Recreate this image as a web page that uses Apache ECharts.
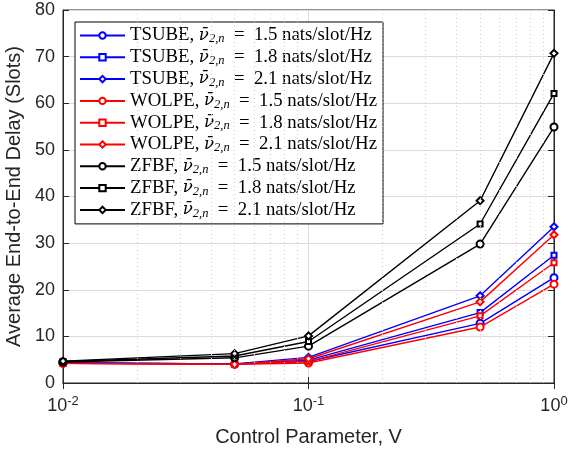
<!DOCTYPE html>
<html>
<head>
<meta charset="utf-8">
<script src="https://cdn.jsdelivr.net/npm/echarts@6/dist/echarts.min.js"></script>
<style>
  html, body { margin: 0; padding: 0; background: #fff; }
  #chart { width: 570px; height: 450px; }
</style>
</head>
<body>
<div id="chart"></div>
<script>
// control parameter V (log scale)
const xValues = [0.01, 0.05, 0.1, 0.5, 1];

const tsube15 = [4.3, 4.1, 4.6, 12.8, 22.6];
const tsube18 = [4.3, 4.1, 4.9, 15.1, 27.4];
const tsube21 = [4.3, 4.1, 5.5, 18.7, 33.5];
const wolpe15 = [4.2, 4.0, 4.3, 12.0, 21.2];
const wolpe18 = [4.2, 4.0, 4.6, 14.4, 25.8];
const wolpe21 = [4.2, 4.0, 5.2, 17.4, 31.8];
const zfbf15 = [4.5, 5.4, 7.9, 29.8, 54.9];
const zfbf18 = [4.6, 5.8, 8.9, 34.1, 62.1];
const zfbf21 = [4.7, 6.3, 10.1, 39.1, 70.7];

const minorGrid = [0.02, 0.03, 0.04, 0.05, 0.06, 0.07, 0.08, 0.09,
                   0.2, 0.3, 0.4, 0.5, 0.6, 0.7, 0.8, 0.9];

const seriesDefs = [
  ['TSUBE', '1.5', tsube15, '#0000ff', 'emptyCircle'],
  ['TSUBE', '1.8', tsube18, '#0000ff', 'emptyRect'],
  ['TSUBE', '2.1', tsube21, '#0000ff', 'emptyDiamond'],
  ['WOLPE', '1.5', wolpe15, '#ff0000', 'emptyCircle'],
  ['WOLPE', '1.8', wolpe18, '#ff0000', 'emptyRect'],
  ['WOLPE', '2.1', wolpe21, '#ff0000', 'emptyDiamond'],
  ['ZFBF', '1.5', zfbf15, '#000000', 'emptyCircle'],
  ['ZFBF', '1.8', zfbf18, '#000000', 'emptyRect'],
  ['ZFBF', '2.1', zfbf21, '#000000', 'emptyDiamond']
];

const chart = echarts.init(document.getElementById('chart'));

const series = seriesDefs.map(([scheme, rate, vals, color, sym]) => ({
  name: scheme + '|' + rate,
  type: 'line',
  data: xValues.map((x, i) => [x, vals[i]]),
  symbol: sym,
  symbolSize: sym === 'emptyRect' ? 5 : 7,
  color: color,
  lineStyle: { width: 1.4, color: color },
  itemStyle: { color: color, borderWidth: 1.3 },
  animation: false
}));

// dotted minor grid lines of the log axis
series.push({
  type: 'line',
  data: [],
  silent: true,
  markLine: {
    silent: true,
    symbol: 'none',
    animation: false,
    label: { show: false },
    lineStyle: { color: '#cfcfcf', type: [1, 3], width: 1 },
    data: minorGrid.map(v => ({ xAxis: v }))
  }
});

const supFmt = v => {
  const e = Math.round(Math.log10(v));
  return '{b|10}{s|' + e + '}';
};

const axisColor = '#262626';

chart.setOption({
  animation: false,
  grid: {
    left: 63, right: 16, top: 10, bottom: 67,
    outerBoundsMode: 'none',
    containLabel: false,
    show: true, borderColor: axisColor, borderWidth: 1
  },
  legend: {
    orient: 'vertical',
    left: 75, top: 22,
    padding: [4, 6, 4, 4],
    itemWidth: 45, itemHeight: 8, itemGap: 2.3,
    backgroundColor: '#fff',
    borderColor: '#000', borderWidth: 1,
    data: series.slice(0, 9).map(s => s.name),
    formatter: name => {
      const [scheme, rate] = name.split('|');
      return '{t|' + scheme + ', }{nu|ν̄}{sub|2,n}{t|\u2002=\u2002' + rate + ' nats/slot/Hz}';
    },
    textStyle: {
      rich: {
        t: { fontFamily: 'Liberation Serif', fontSize: 18.8, lineHeight: 20, color: '#000' },
        nu: { fontFamily: 'DejaVu Serif', fontStyle: 'italic', fontSize: 16.5, lineHeight: 20, color: '#000' },
        sub: { fontFamily: 'Liberation Serif', fontStyle: 'italic', fontSize: 12.5, lineHeight: 12, verticalAlign: 'bottom', color: '#000' }
      }
    }
  },
  xAxis: [{
    type: 'log',
    logBase: 10,
    min: 0.01, max: 1,
    name: 'Control Parameter, V',
    nameLocation: 'middle',
    nameGap: 44,
    nameTextStyle: { fontFamily: 'Liberation Sans', fontSize: 20, color: axisColor },
    axisLine: { lineStyle: { color: axisColor } },
    axisTick: { inside: true, length: 6, lineStyle: { color: axisColor } },
    axisLabel: {
      formatter: supFmt,
      margin: 12,
      rich: {
        b: { fontFamily: 'Liberation Sans', fontSize: 18, color: axisColor },
        s: { fontFamily: 'Liberation Sans', fontSize: 13, color: axisColor, padding: [0, 0, 10, 0] }
      }
    },
    splitLine: { show: true, lineStyle: { color: '#dcdcdc', width: 1 } }
  }, {
    type: 'log',
    logBase: 10,
    min: 0.01, max: 1,
    position: 'top',
    axisLine: { lineStyle: { color: axisColor } },
    axisTick: { inside: true, length: 6, lineStyle: { color: axisColor } },
    axisLabel: { show: false },
    splitLine: { show: false }
  }],
  yAxis: [{
    type: 'value',
    min: 0, max: 80, interval: 10,
    name: 'Average End-to-End Delay (Slots)',
    nameLocation: 'middle',
    nameGap: 31,
    nameTextStyle: { fontFamily: 'Liberation Sans', fontSize: 20, color: axisColor },
    axisLine: { show: true, lineStyle: { color: axisColor } },
    axisTick: { show: true, inside: true, length: 6, lineStyle: { color: axisColor } },
    axisLabel: { fontFamily: 'Liberation Sans', fontSize: 18, color: axisColor, margin: 8 },
    splitLine: { show: true, lineStyle: { color: '#dcdcdc', width: 1 } }
  }, {
    type: 'value',
    min: 0, max: 80, interval: 10,
    position: 'right',
    axisLine: { show: true, lineStyle: { color: axisColor } },
    axisTick: { show: true, inside: true, length: 6, lineStyle: { color: axisColor } },
    axisLabel: { show: false },
    splitLine: { show: false }
  }],
  series: series
});
</script>
</body>
</html>
